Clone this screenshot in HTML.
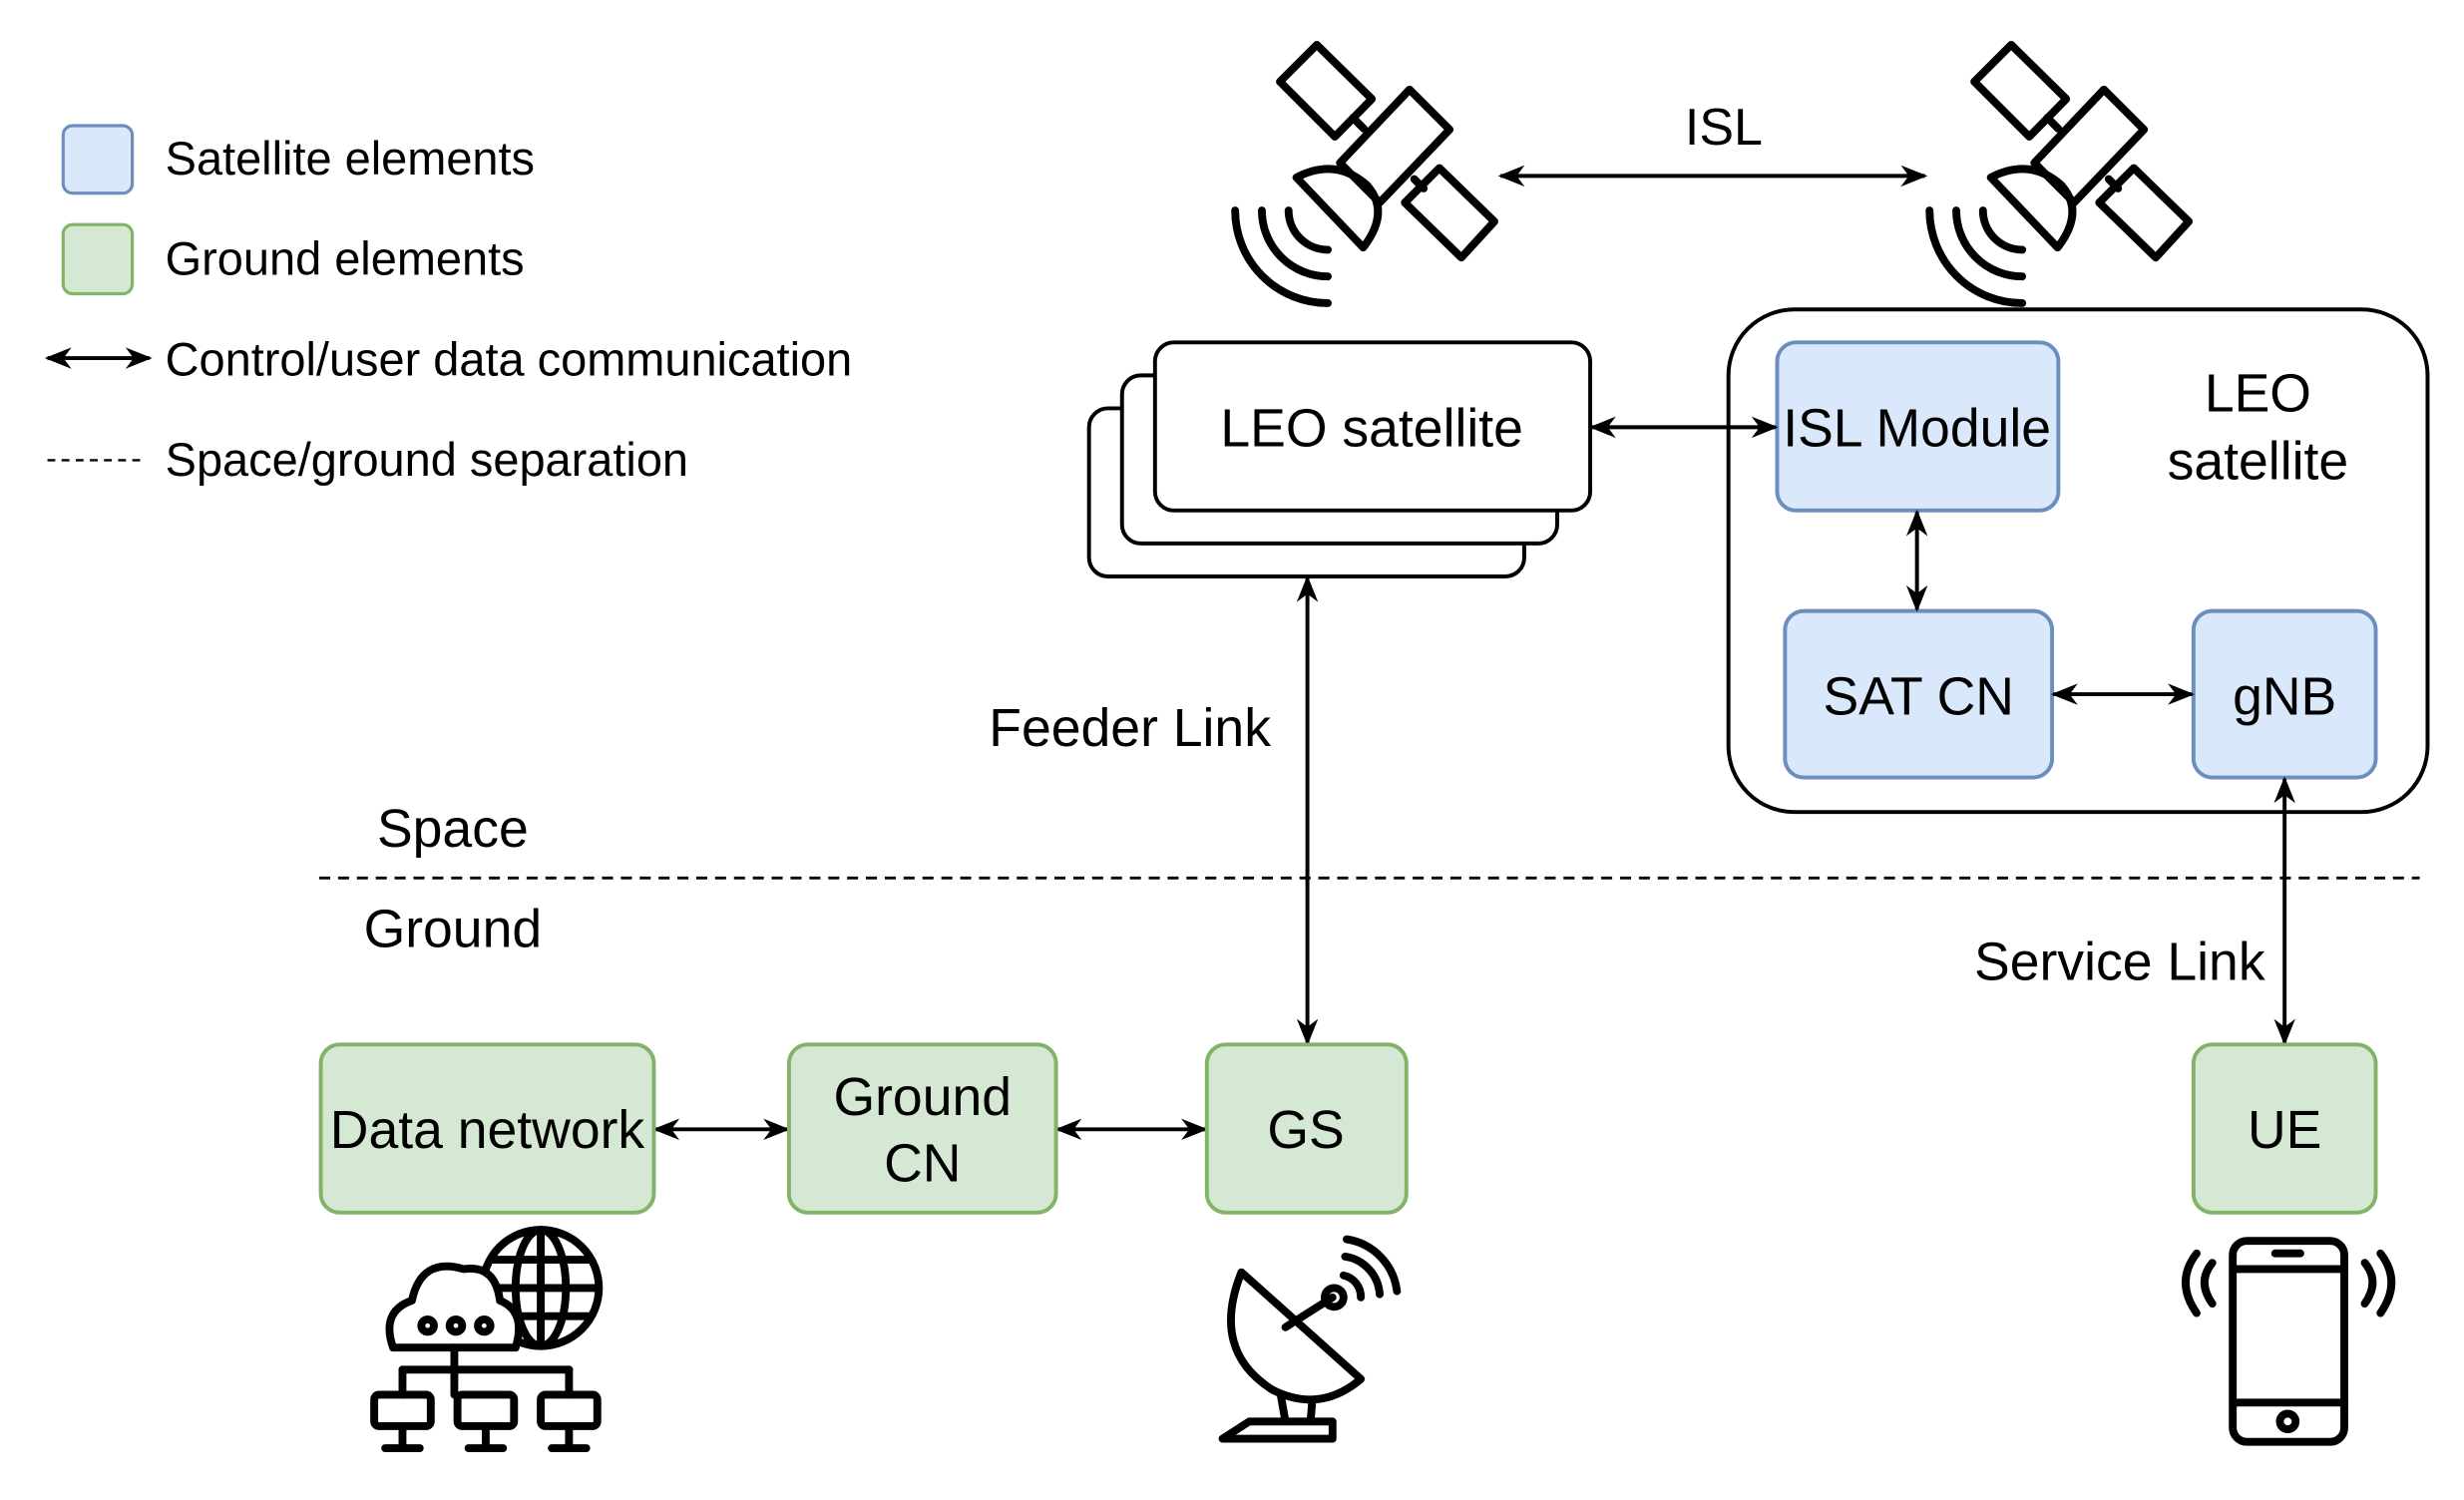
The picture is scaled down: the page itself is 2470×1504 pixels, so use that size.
<!DOCTYPE html>
<html><head><meta charset="utf-8"><style>html,body{margin:0;padding:0;background:#fff}svg{display:block}text{font-family:"Liberation Sans",Arial,sans-serif;fill:#000}</style></head>
<body>
<svg width="2470" height="1504" viewBox="0 0 1568 955" xmlns="http://www.w3.org/2000/svg">
<defs>
<marker id="a" viewBox="0 0 10 10" refX="9" refY="5" markerWidth="17" markerHeight="17" orient="auto-start-reverse" markerUnits="userSpaceOnUse">
<path d="M0,1 L10,5 L0,9 L3,5 Z" fill="#000"/></marker>
<g id="sat" fill="none" stroke="#000" stroke-width="5" stroke-linejoin="round" stroke-linecap="round">
<polygon points="838,28.5 873,63 849.5,87 814.5,52"/>
<polygon points="897,57 922.5,82.5 878,129 852.7,103.7"/>
<polygon points="916,107 951,141 930,164 894,129"/>
<line x1="861" y1="75" x2="868" y2="82"/>
<line x1="900" y1="114" x2="906" y2="120"/>
<path d="M825,113 L867.5,157.6 Q885,135 870,118 Q850,100 825,113 Z"/>
<path d="M820,134 A25,25 0 0 0 845,159"/>
<path d="M803,134 A42,42 0 0 0 845,176"/>
<path d="M786,134 A59,59 0 0 0 845,193"/>
</g>
</defs>
<rect width="1568" height="955" fill="#fff"/>
<rect x="40" y="80" width="44" height="43" rx="6" fill="#dae8fc" stroke="#6c8ebf" stroke-width="2"/>
<rect x="40" y="143" width="44" height="44" rx="6" fill="#d5e8d4" stroke="#82b366" stroke-width="2"/>
<line x1="30" y1="228" x2="95" y2="228" stroke="#000" stroke-width="2.5" marker-start="url(#a)" marker-end="url(#a)"/>
<line x1="30" y1="293" x2="90" y2="293" stroke="#000" stroke-width="1.5" stroke-dasharray="5,4"/>
<g font-size="29.8">
<text x="105" y="111">Satellite elements</text>
<text x="105" y="175">Ground elements</text>
<text x="105" y="239">Control/user data communication</text>
<text x="105" y="303">Space/ground separation</text>
</g>
<use href="#sat"/>
<use href="#sat" x="442"/>
<line x1="955" y1="112" x2="1225" y2="112" stroke="#000" stroke-width="2.5" marker-start="url(#a)" marker-end="url(#a)"/>
<text x="1097" y="92" font-size="33" text-anchor="middle">ISL</text>
<g fill="#fff" stroke="#000" stroke-width="2.5">
<rect x="693" y="260" width="277" height="107" rx="12"/>
<rect x="714" y="239" width="277" height="107" rx="12"/>
<rect x="735" y="218" width="277" height="107" rx="12"/>
</g>
<text x="873" y="284" font-size="34" text-anchor="middle">LEO satellite</text>
<rect x="1100" y="197" width="445" height="320" rx="42" fill="#fff" stroke="#000" stroke-width="2.5"/>
<g fill="#dae8fc" stroke="#6c8ebf" stroke-width="2.5">
<rect x="1131" y="218" width="179" height="107" rx="12"/>
<rect x="1136" y="389" width="170" height="106" rx="12"/>
<rect x="1396" y="389" width="116" height="106" rx="12"/>
</g>
<g font-size="34" text-anchor="middle">
<text x="1220" y="284">ISL Module</text>
<text x="1221" y="455">SAT CN</text>
<text x="1454" y="455">gNB</text>
<text x="1437" y="262">LEO</text>
<text x="1437" y="305">satellite</text>
</g>
<g stroke="#000" stroke-width="2.5" marker-start="url(#a)" marker-end="url(#a)">
<line x1="1013" y1="272" x2="1130" y2="272"/>
<line x1="1220" y1="326" x2="1220" y2="388"/>
<line x1="1307" y1="442" x2="1395" y2="442"/>
<line x1="1454" y1="496" x2="1454" y2="664"/>
<line x1="832" y1="368" x2="832" y2="664"/>
<line x1="417" y1="719" x2="501" y2="719"/>
<line x1="673" y1="719" x2="767" y2="719"/>
</g>
<line x1="203" y1="559" x2="1540" y2="559" stroke="#000" stroke-width="1.8" stroke-dasharray="7,5"/>
<g font-size="34">
<text x="288" y="539" text-anchor="middle">Space</text>
<text x="288" y="603" text-anchor="middle">Ground</text>
<text x="719" y="475" text-anchor="middle">Feeder Link</text>
<text x="1349" y="624" text-anchor="middle">Service Link</text>
</g>
<g fill="#d5e8d4" stroke="#82b366" stroke-width="2.5">
<rect x="204" y="665" width="212" height="107" rx="12"/>
<rect x="502" y="665" width="170" height="107" rx="12"/>
<rect x="768" y="665" width="127" height="107" rx="12"/>
<rect x="1396" y="665" width="116" height="107" rx="12"/>
</g>
<g font-size="34" text-anchor="middle">
<text x="310" y="731">Data network</text>
<text x="587" y="710">Ground</text>
<text x="587" y="752">CN</text>
<text x="831" y="731">GS</text>
<text x="1454" y="731">UE</text>
</g>
<g fill="none" stroke="#000" stroke-width="5" stroke-linejoin="round" stroke-linecap="round">
<circle cx="344" cy="820" r="37"/>
<ellipse cx="344" cy="820" rx="16" ry="37"/>
<line x1="307" y1="820" x2="381" y2="820"/><line x1="344" y1="783" x2="344" y2="857"/>
<line x1="312" y1="802" x2="376" y2="802"/><line x1="312" y1="838" x2="376" y2="838"/>
<path d="M250,858 Q242,835 262,828 Q268,800 295,808 Q315,805 318,828 Q335,835 328,858 Z" fill="#fff"/>
<circle cx="272" cy="844" r="4"/><circle cx="290" cy="844" r="4"/><circle cx="308" cy="844" r="4"/>
<line x1="289" y1="858" x2="289" y2="888"/>
<line x1="256" y1="872" x2="362" y2="872"/>
<line x1="256" y1="872" x2="256" y2="888"/><line x1="362" y1="872" x2="362" y2="888"/>
<rect x="238" y="888" width="36" height="20" rx="3"/><rect x="291" y="888" width="36" height="20" rx="3"/><rect x="344" y="888" width="36" height="20" rx="3"/>
<line x1="245" y1="922" x2="267" y2="922"/><line x1="298" y1="922" x2="320" y2="922"/><line x1="351" y1="922" x2="373" y2="922"/>
<line x1="256" y1="908" x2="256" y2="922"/><line x1="309" y1="908" x2="309" y2="922"/><line x1="362" y1="908" x2="362" y2="922"/>
</g>
<g fill="none" stroke="#000" stroke-width="5" stroke-linejoin="round" stroke-linecap="round">
<path d="M790,810 Q770,860 810,885 Q840,900 866,878 Z"/>
<line x1="818" y1="845" x2="848" y2="826"/>
<circle cx="849" cy="826" r="6"/>
<path d="M855,812 A14,14 0 0 1 866,826"/>
<path d="M856,800 A26,26 0 0 1 878,824"/>
<path d="M857,789 A38,38 0 0 1 889,822"/>
<line x1="815" y1="888" x2="818" y2="905"/><line x1="835" y1="893" x2="834" y2="905"/>
<path d="M795,905 L848,905 L848,916 L778,916 Z"/>
</g>
<g fill="none" stroke="#000" stroke-width="5" stroke-linejoin="round" stroke-linecap="round">
<rect x="1421" y="790" width="71" height="128" rx="9"/>
<line x1="1421" y1="808" x2="1492" y2="808"/><line x1="1421" y1="893" x2="1492" y2="893"/>
<line x1="1448" y1="798" x2="1464" y2="798"/>
<circle cx="1456" cy="905" r="5"/>
<path d="M1408,804 Q1398,816 1408,830"/><path d="M1398,798 Q1384,816 1398,836"/>
<path d="M1505,804 Q1515,816 1505,830"/><path d="M1515,798 Q1529,816 1515,836"/>
</g>
</svg>
</body></html>
